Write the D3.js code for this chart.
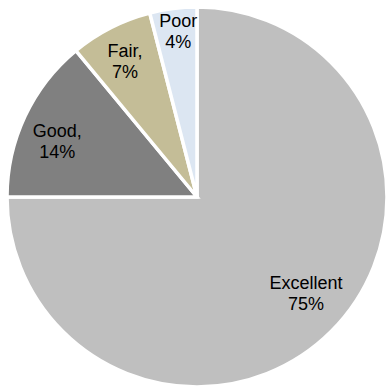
<!DOCTYPE html>
<html>
<head>
<meta charset="utf-8">
<script src="https://cdn.jsdelivr.net/npm/d3@7"></script>
<style>
  body { margin: 0; background: #fff; }
  text { font-family: "Liberation Sans", Arial, sans-serif; }
</style>
</head>
<body>
<div id="chart"></div>
<script>
// data
var categories = ["Excellent", "Good", "Fair", "Poor"];
var values = [75, 14, 7, 4];
var labelNames = ["Excellent", "Good,", "Fair,", "Poor"];
var colors = ["#bfbfbf", "#808080", "#c4bd97", "#dce6f2"];

var width = 388, height = 391;
var cx = 197, cy = 197, radius = 190;

// small label nudges (px) from the arc centroid
var nudge = [[3, -4], [-4, 14], [-4, 4], [0, -11]];

var svg = d3.select("#chart")
	.append("svg")
	.attr("width", width)
	.attr("height", height);

var g = svg.append("g")
	.attr("transform", "translate(" + cx + "," + cy + ")");

var pie = d3.pie()
	.sort(null)
	.value(function(d) { return d; });

var arcs = pie(values);

var arc = d3.arc()
	.innerRadius(0)
	.outerRadius(radius);

var labelArc = d3.arc()
	.innerRadius(150)
	.outerRadius(150);

var color = d3.scaleOrdinal()
	.domain(categories)
	.range(colors);

g.selectAll(".slice")
	.data(arcs)
	.enter().append("path")
	.attr("class", "slice")
	.attr("d", arc)
	.style("fill", function(d, i) { return color(categories[i]); })
	.style("stroke", "#fff")
	.style("stroke-width", 3.5)
	.style("stroke-linejoin", "miter");

var label = g.selectAll(".label")
	.data(arcs)
	.enter().append("text")
	.attr("class", "label")
	.attr("transform", function(d, i) {
		var c = labelArc.centroid(d);
		return "translate(" + (c[0] + nudge[i][0]) + "," + (c[1] + nudge[i][1]) + ")";
	})
	.attr("text-anchor", "middle")
	.style("font-size", "18px")
	.style("fill", "#000");

label.append("tspan")
	.attr("x", 0)
	.attr("y", -10.5)
	.text(function(d, i) { return labelNames[i]; });

label.append("tspan")
	.attr("x", 0)
	.attr("y", 10.5)
	.text(function(d, i) { return values[i] + "%"; });
</script>
</body>
</html>
